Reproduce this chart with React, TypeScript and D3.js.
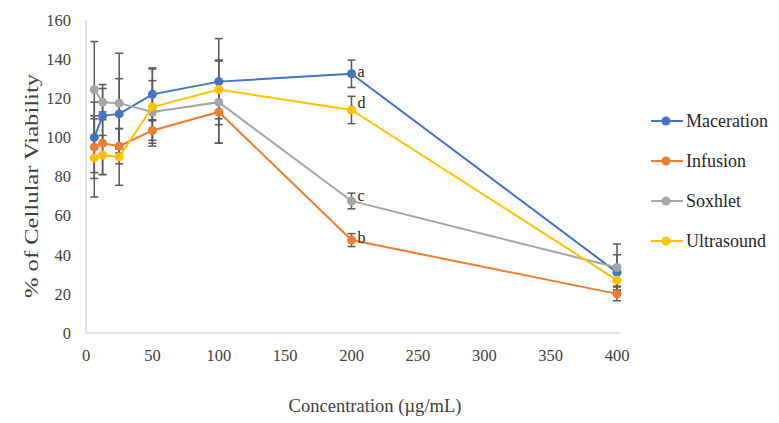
import * as d3 from 'd3';
import React from 'react';

const concentrations = [6.25, 12.5, 25, 50, 100, 200, 400];
const seriesNames = ['Maceration', 'Infusion', 'Soxhlet', 'Ultrasound'];
const maceration = [100, 111, 112, 122, 128.5, 132.5, 31];
const macerationErr = [18, 14, 18, 13, 22, 7, 9];
const infusion = [95, 97, 95.5, 103.5, 113, 47.5, 20];
const infusionErr = [16, 16, 9, 5, 16, 3.3, 3.5];
const soxhlet = [124.5, 118, 117.5, 113, 118, 67.5, 33.5];
const soxhletErr = [24.5, 9, 25.5, 16, 21, 4, 12];
const ultrasound = [89.5, 91, 90, 115.5, 124.5, 114, 27];
const ultrasoundErr = [20, 10, 14.5, 20, 15, 7, 3];
const xTicks = [0, 50, 100, 150, 200, 250, 300, 350, 400];
const yTicks = [0, 20, 40, 60, 80, 100, 120, 140, 160];
// significance letters at 200 µg/mL
const letters = ['a', 'b', 'c', 'd'];

const colors = ['#4472C4', '#ED7D31', '#A5A5A5', '#FFC000'];
const letterDy = [3, 3, 0, -2];

const App = () => {
    const width = 779, height = 423;
    const x = d3.scaleLinear().domain([0, 400]).range([86, 617]);
    const y = d3.scaleLinear().domain([0, 160]).range([333, 20]);

    const values = [maceration, infusion, soxhlet, ultrasound];
    const errors = [macerationErr, infusionErr, soxhletErr, ultrasoundErr];

    const line = d3.line<number>()
        .x((d, i) => x(concentrations[i]))
        .y(d => y(d));

    const font = '"Liberation Serif", "Times New Roman", serif';
    const idx200 = concentrations.indexOf(200);

    return (
        <svg width={width} height={height} style={{ position: 'absolute', left: 0, top: 0, background: '#fff' }} fontFamily={font}>
            {/* axes */}
            <line x1={x(0)} x2={x(0)} y1={y(0)} y2={y(160)} stroke="#d9d9d9" strokeWidth={1.5} />
            <line x1={x(0)} x2={x(400) + 3} y1={y(0)} y2={y(0)} stroke="#d9d9d9" strokeWidth={1.5} />

            {yTicks.map(t => (
                <text key={'y' + t} x={71} y={y(t)} dy="0.35em" textAnchor="end" fontSize={16.5} fill="#404040">{t}</text>
            ))}
            {xTicks.map(t => (
                <text key={'x' + t} x={x(t)} y={y(0)} dy={28} textAnchor="middle" fontSize={16.5} fill="#404040">{t}</text>
            ))}

            <text x={375} y={412} textAnchor="middle" fontSize={18} fill="#404040" textLength={173} lengthAdjust="spacingAndGlyphs">Concentration (µg/mL)</text>
            <text transform="translate(38,186) rotate(-90)" textAnchor="middle" fontSize={18} fill="#404040" textLength={224} lengthAdjust="spacingAndGlyphs">% of Cellular Viability</text>

            {/* error bars */}
            {values.map((vals, s) => (
                <g key={'err' + s} stroke="#595959" strokeWidth={1.5}>
                    {vals.map((v, i) => {
                        const cx = x(concentrations[i]);
                        const hi = y(v + errors[s][i]);
                        const lo = y(v - errors[s][i]);
                        return (
                            <g key={i}>
                                <line x1={cx} x2={cx} y1={hi} y2={lo} />
                                <line x1={cx - 4} x2={cx + 4} y1={hi} y2={hi} />
                                <line x1={cx - 4} x2={cx + 4} y1={lo} y2={lo} />
                            </g>
                        );
                    })}
                </g>
            ))}

            {/* series */}
            {values.map((vals, s) => (
                <g key={'s' + s}>
                    <path d={line(vals) || ''} fill="none" stroke={colors[s]} strokeWidth={2} />
                    {vals.map((v, i) => (
                        <circle key={i} cx={x(concentrations[i])} cy={y(v)} r={4.5} fill={colors[s]} />
                    ))}
                </g>
            ))}

            {letters.map((l, s) => (
                <text key={'l' + l} x={x(200) + 6} y={y(values[s][idx200]) + letterDy[s]} fontSize={16} fill="#262626">{l}</text>
            ))}

            {/* legend */}
            {seriesNames.map((n, s) => {
                const ly = 121 + s * 40;
                return (
                    <g key={'lg' + n}>
                        <line x1={651} x2={683} y1={ly} y2={ly} stroke={colors[s]} strokeWidth={2} />
                        <circle cx={666} cy={ly} r={4.5} fill={colors[s]} />
                        <text x={686} y={ly} dy="0.35em" fontSize={18} fill="#262626">{n}</text>
                    </g>
                );
            })}
        </svg>
    );
};

export default App;
